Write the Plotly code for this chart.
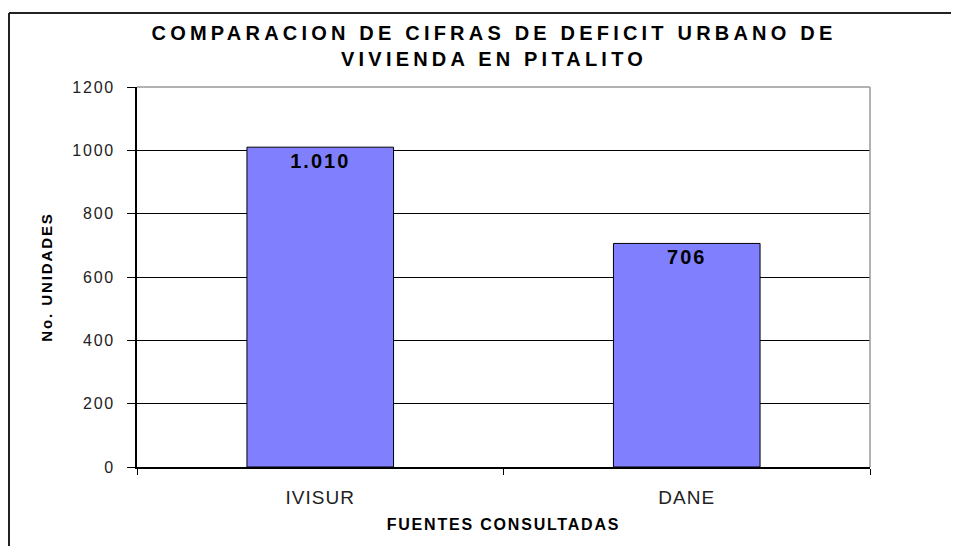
import plotly.graph_objects as go

# data
fuentes = ['IVISUR', 'DANE']
unidades = [1010, 706]
y_ticks = [0, 200, 400, 600, 800, 1000, 1200]

W, H = 959, 546
# the page body adds an 8px offset, so margins are set 8px smaller
L, R, T, B = 129, 97, 79, 87

# pixel -> paper helpers, for the outer chart frame
def px_x(p):
    return (p - L) / (W - L - R)

def px_y(p):
    return (H - B - p) / (H - T - B)

fig = go.Figure()
fig.add_bar(x=fuentes, y=unidades,
            marker=dict(color='#8080FF', line=dict(color='black', width=1)),
            texttemplate='%{y:,}', textposition='inside', insidetextanchor='end',
            textfont=dict(family='Liberation Sans', size=20, color='black', weight='bold'),
            constraintext='none', width=0.4, showlegend=False, hoverinfo='skip')

fig.update_layout(
    width=W, height=H,
    margin=dict(l=L, r=R, t=T, b=B, autoexpand=False),
    paper_bgcolor='white', plot_bgcolor='white',
    separators=',.',
    font=dict(family='Liberation Sans', color='black'),
    title=dict(text='COMPARACION DE CIFRAS DE DEFICIT URBANO DE<br>VIVIENDA EN PITALITO',
               x=486 / W, xanchor='center', xref='container',
               y=1 - 32 / H, yanchor='top', yref='container',
               font=dict(size=20, weight='bold', color='black')),
    shapes=[
        # grey top and right edges of the plot area
        dict(type='line', xref='paper', yref='paper', x0=0, x1=1, y0=1, y1=1,
             line=dict(color='#999999', width=1.5), layer='above'),
        dict(type='line', xref='paper', yref='paper', x0=1, x1=1, y0=0, y1=1,
             line=dict(color='#999999', width=1.5), layer='above'),
        # outer chart frame (only top and left are inside the picture)
        dict(type='line', xref='paper', yref='paper', x0=px_x(1), x1=px_x(W + 20),
             y0=px_y(5), y1=px_y(5), line=dict(color='#222222', width=2)),
        dict(type='line', xref='paper', yref='paper', x0=px_x(1), x1=px_x(1),
             y0=px_y(5), y1=px_y(H + 20), line=dict(color='#222222', width=2)),
    ],
)

fig.update_xaxes(automargin=False, showline=True, linecolor='black', linewidth=1.5,
                 ticks='outside', tickson='boundaries', ticklen=6, tickcolor='black',
                 ticklabelstandoff=12,
                 tickfont=dict(size=19, color='#222222'),
                 title=dict(text='FUENTES CONSULTADAS', standoff=12,
                            font=dict(size=16, weight='bold', color='black')))
fig.update_yaxes(automargin=False, range=[0, 1200], tickvals=y_ticks, showline=True,
                 linecolor='black', linewidth=1.5, ticks='outside', ticklen=8,
                 tickcolor='black', ticklabelstandoff=9,
                 showgrid=True, gridcolor='black', gridwidth=1, zeroline=False,
                 tickfont=dict(size=16, color='#222222'),
                 title=dict(text='No. UNIDADES', standoff=23,
                            font=dict(size=15, weight='bold', color='black')))

# the original chart uses wide letter spacing on its texts
spacing_js = """
var gd = document.getElementById('{plot_id}');
function spaceText() {
  var rules = [['.gtitle', '4.2px'], ['.ytick text', '1.8px'], ['.xtick text', '1px'],
               ['.g-xtitle text', '1.8px'], ['.g-ytitle text', '1.9px'], ['.bartext', '2px']];
  rules.forEach(function (r) {
    gd.querySelectorAll(r[0]).forEach(function (t) { t.style.letterSpacing = r[1]; });
  });
}
spaceText();
gd.on('plotly_afterplot', spaceText);
"""

fig.write_html("out.html", post_script=spacing_js)
